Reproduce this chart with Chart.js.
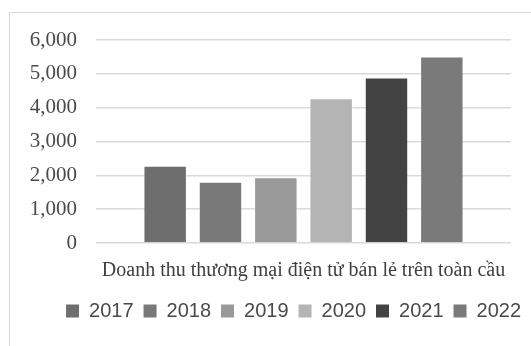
<!DOCTYPE html>
<html>
<head>
<meta charset="utf-8">
<script src="https://cdn.jsdelivr.net/npm/chart.js@4"></script>
<style>
  html, body { margin: 0; padding: 0; background: #fff; overflow: hidden; }
  #wrap { position: relative; width: 531px; height: 346px; }
  #frame { position: absolute; left: 9px; top: 12px; width: 700px; height: 500px;
           border: 1.5px solid #d9d9d9; box-sizing: border-box; }
  #chart { position: absolute; left: 0; top: 0; }
</style>
</head>
<body>
<div id="wrap">
  <div id="frame"></div>
  <canvas id="chart" width="531" height="346"></canvas>
</div>
<script>
// du lieu doc tu hinh
const categories = ["Doanh thu thương mại điện tử bán lẻ trên toàn cầu"];
const years = ["2017", "2018", "2019", "2020", "2021", "2022"];
const revenue = [2280, 1810, 1940, 4280, 4890, 5510];
const barColors = ["#6e6e6e", "#787878", "#999999", "#b4b4b4", "#434343", "#7a7a7a"];
const yTicks = [0, 1000, 2000, 3000, 4000, 5000, 6000];

const datasets = years.map((year, i) => ({
  label: year,
  data: [revenue[i]],
  backgroundColor: barColors[i],
  borderColor: "rgba(255,255,255,0.35)",
  borderWidth: 1,
  categoryPercentage: 0.8,
  barPercentage: 0.785,
}));

new Chart(document.getElementById("chart"), {
  type: "bar",
  data: { labels: categories, datasets },
  options: {
    responsive: false,
    animation: false,
    layout: { padding: { top: 40, right: 0, left: 0, bottom: 15 } },
    plugins: {
      tooltip: { enabled: false },
      legend: {
        position: "bottom",
        align: "end",
        labels: {
          boxWidth: 13,
          boxHeight: 13,
          padding: 10,
          color: "#4a4a4a",
          font: { family: "Liberation Sans", size: 20 },
          generateLabels: (chart) =>
            chart.data.datasets.map((ds, i) => ({
              text: ds.label,
              fillStyle: ds.backgroundColor,
              strokeStyle: ds.backgroundColor,
              lineWidth: 0,
              fontColor: "#4a4a4a",
              datasetIndex: i,
            })),
        },
      },
    },
    scales: {
      x: {
        grid: { display: false },
        border: { display: false },
        ticks: {
          color: "#404040",
          padding: 8,
          font: { family: "Liberation Serif", size: 20 },
        },
      },
      y: {
        min: 0,
        max: 6000,
        afterBuildTicks: (axis) => {
          axis.ticks = yTicks.map((v) => ({ value: v }));
        },
        afterFit: (axis) => {
          axis.width = 96;
        },
        grid: { color: "#d9d9d9", lineWidth: 1.5, drawTicks: false },
        border: { display: false },
        ticks: {
          autoSkip: false,
          color: "#4a4a4a",
          padding: 19,
          font: { family: "Liberation Serif", size: 21 },
          callback: (v) => v.toLocaleString("en-US"),
        },
      },
      // truc phu trong de chua le phai 20px cho vung ve
      yRight: {
        position: "right",
        display: true,
        grid: { display: false },
        border: { display: false },
        ticks: { display: false },
        afterFit: (axis) => {
          axis.width = 20;
        },
      },
    },
  },
});
</script>
</body>
</html>
